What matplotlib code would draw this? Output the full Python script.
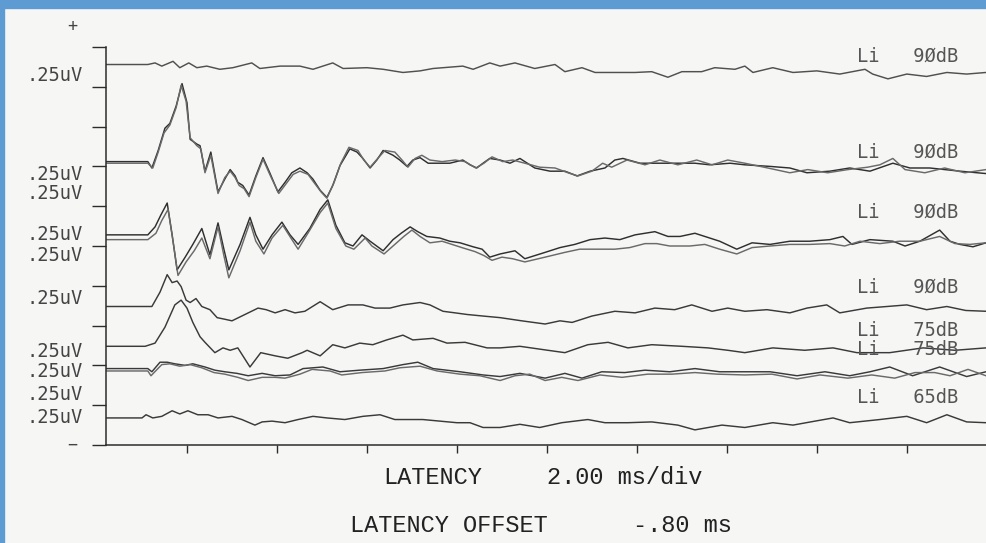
import matplotlib.pyplot as plt
from matplotlib.patches import Rectangle

# recording window (ms) and display scale
LATENCY_OFFSET_MS = -0.80
LATENCY_END_MS = 18.76
UV_PER_DIV = 0.25

# every sweep is a list of (latency ms, amplitude uV),
# amplitude relative to the sweep's own resting level
sweep_1 = [(0.13, 0), (0.29, 0.01), (0.44, -0.01), (0.69, 0.02), (0.84, -0.02), (1.04, 0.01),
           (1.22, -0.02), (1.44, -0.01), (1.73, -0.03), (2.02, -0.02), (2.44, 0.01), (2.62, -0.025),
           (3.07, -0.01), (3.51, -0.01), (3.8, -0.03), (4.24, 0.01), (4.47, -0.025), (5.0, -0.02),
           (5.36, -0.03), (5.8, -0.05), (6.18, -0.04), (6.47, -0.025), (7.13, -0.01), (7.36, -0.03),
           (7.73, 0.01), (7.96, -0.01), (8.29, 0.01), (8.73, -0.025), (9.18, 0), (9.4, -0.045),
           (9.78, -0.02), (10.07, -0.05), (10.51, -0.05), (10.96, -0.05), (11.33, -0.045), (11.69, -0.08),
           (12.0, -0.045), (12.44, -0.045), (12.73, -0.02), (13.18, -0.03), (13.4, -0.01), (13.58, -0.05),
           (14.02, -0.02), (14.47, -0.05), (15.0, -0.04), (15.51, -0.06), (16.07, -0.03), (16.24, -0.06),
           (16.58, -0.09), (17.0, -0.06), (17.44, -0.075), (17.89, -0.05), (18.33, -0.06), (18.76, -0.05)]

sweep_2a = [(0.13, 0), (0.22, -0.04), (0.36, 0.07), (0.51, 0.21), (0.62, 0.24), (0.76, 0.35), (0.89, 0.49),
            (1.0, 0.37), (1.07, 0.14), (1.22, 0.11), (1.29, 0.10), (1.4, -0.06), (1.53, 0.06), (1.69, -0.19),
            (1.84, -0.11), (1.96, -0.05), (2.07, -0.09), (2.13, -0.13), (2.24, -0.15), (2.38, -0.21),
            (2.53, -0.09), (2.69, 0.025), (2.84, -0.07), (3.02, -0.19), (3.18, -0.13), (3.33, -0.07),
            (3.51, -0.04), (3.67, -0.07), (3.8, -0.11), (3.96, -0.18), (4.11, -0.225), (4.24, -0.15),
            (4.4, -0.025), (4.62, 0.08), (4.78, 0.06), (4.91, 0.02), (5.07, -0.04), (5.22, 0.01),
            (5.36, 0.07), (5.58, 0.04), (5.73, 0.01), (5.89, -0.03), (6.02, 0.01), (6.18, 0.025),
            (6.36, -0.01), (6.62, -0.01), (6.84, -0.01), (7.13, 0.01), (7.29, -0.02), (7.44, -0.04),
            (7.58, -0.01), (7.73, 0.02), (7.96, 0.01), (8.18, -0.01), (8.4, 0.02), (8.73, -0.04),
            (9.07, -0.06), (9.4, -0.06), (9.67, -0.09), (9.96, -0.06), (10.29, -0.04), (10.51, 0.01),
            (10.69, 0.02), (11.07, -0.01), (11.58, -0.01), (11.96, -0.01), (12.29, -0.01), (12.62, -0.02),
            (13.07, -0.01), (13.4, -0.02), (13.96, -0.03), (14.4, -0.04), (14.78, -0.07), (15.29, -0.06),
            (15.73, -0.04), (16.18, -0.06), (16.69, -0.01), (17.07, -0.04), (17.51, -0.04), (18.18, -0.06),
            (18.76, -0.075)]

sweep_2b = [(0.13, 0), (0.24, -0.03), (0.36, 0.07), (0.49, 0.19), (0.62, 0.24), (0.76, 0.35), (0.87, 0.49),
            (0.98, 0.39), (1.07, 0.16), (1.22, 0.11), (1.31, 0.09), (1.4, -0.06), (1.53, 0.05), (1.69, -0.19),
            (1.84, -0.09), (1.96, -0.05), (2.07, -0.09), (2.16, -0.14), (2.27, -0.16), (2.38, -0.21),
            (2.53, -0.09), (2.69, 0.025), (2.84, -0.07), (3.04, -0.19), (3.2, -0.13), (3.36, -0.07),
            (3.51, -0.05), (3.69, -0.07), (3.82, -0.12), (3.98, -0.18), (4.11, -0.22), (4.27, -0.12),
            (4.42, 0.0), (4.6, 0.1), (4.8, 0.08), (4.93, 0.02), (5.07, -0.025), (5.24, 0.03), (5.4, 0.08),
            (5.62, 0.07), (5.78, 0.02), (5.91, -0.025), (6.07, 0.03), (6.22, 0.05), (6.4, 0.02), (6.67, 0.01),
            (6.96, 0.02), (7.18, 0.01), (7.42, -0.03), (7.6, 0.0), (7.78, 0.04), (8.02, 0.01), (8.24, 0.02),
            (8.51, 0.0), (8.84, -0.025), (9.18, -0.03), (9.47, -0.06), (9.69, -0.08), (10.0, -0.05),
            (10.24, 0.0), (10.44, -0.025), (10.78, 0.02), (11.18, -0.01), (11.51, 0.02), (11.91, -0.01),
            (12.33, 0.02), (12.67, -0.01), (13.02, 0.02), (13.4, 0.0), (13.91, -0.03), (14.4, -0.06),
            (14.8, -0.04), (15.24, -0.06), (15.69, -0.04), (16.13, -0.025), (16.4, -0.01), (16.69, 0.03),
            (16.96, -0.04), (17.4, -0.06), (17.84, -0.03), (18.29, -0.06), (18.76, -0.04)]

sweep_3a = [(0.13, 0), (0.29, 0.05), (0.42, 0.125), (0.56, 0.2), (0.67, 0.0), (0.78, -0.22), (0.96, -0.14),
            (1.13, -0.06), (1.33, 0.04), (1.51, -0.125), (1.69, 0.075), (1.82, -0.09), (1.93, -0.22),
            (2.18, -0.06), (2.4, 0.11), (2.53, 0.0), (2.69, -0.09), (2.89, 0.0), (3.11, 0.08), (3.29, 0.0),
            (3.47, -0.06), (3.73, 0.04), (3.96, 0.16), (4.13, 0.22), (4.31, 0.06), (4.51, -0.05),
            (4.69, -0.07), (4.89, 0.0), (5.07, -0.04), (5.36, -0.1), (5.58, -0.03), (5.76, 0.01),
            (5.96, 0.05), (6.13, 0.02), (6.33, -0.01), (6.62, -0.02), (6.84, -0.04), (7.07, -0.05),
            (7.36, -0.075), (7.56, -0.09), (7.73, -0.14), (7.96, -0.12), (8.29, -0.1), (8.51, -0.15),
            (8.96, -0.11), (9.29, -0.08), (9.62, -0.06), (9.96, -0.03), (10.29, -0.02), (10.62, -0.03),
            (10.96, 0.0), (11.4, 0.02), (11.69, -0.01), (11.96, -0.01), (12.29, 0.01), (12.51, -0.01),
            (12.84, -0.04), (13.22, -0.09), (13.56, -0.05), (13.96, -0.06), (14.4, -0.04), (14.84, -0.04),
            (15.29, -0.03), (15.58, -0.01), (15.78, -0.06), (16.18, -0.03), (16.69, -0.04), (16.96, -0.07),
            (17.29, -0.04), (17.73, 0.03), (17.96, -0.04), (18.18, -0.06), (18.47, -0.075), (18.76, -0.05)]

sweep_3b = [(0.13, 0), (0.31, 0.04), (0.44, 0.12), (0.58, 0.19), (0.69, -0.01), (0.8, -0.225), (0.98, -0.14),
            (1.16, -0.07), (1.33, 0.01), (1.51, -0.12), (1.69, 0.08), (1.82, -0.1), (1.93, -0.24),
            (2.18, -0.07), (2.4, 0.11), (2.53, -0.01), (2.71, -0.09), (2.89, 0.01), (3.13, 0.09),
            (3.31, 0.01), (3.47, -0.06), (3.73, 0.06), (3.96, 0.17), (4.13, 0.23), (4.31, 0.07),
            (4.53, -0.04), (4.71, -0.06), (4.96, 0.01), (5.11, -0.04), (5.38, -0.09), (5.62, -0.03),
            (5.82, 0.02), (6.0, 0.06), (6.18, 0.02), (6.4, -0.02), (6.67, -0.01), (6.89, -0.03),
            (7.11, -0.05), (7.4, -0.075), (7.6, -0.1), (7.78, -0.13), (8.0, -0.11), (8.24, -0.12),
            (8.51, -0.14), (8.96, -0.11), (9.4, -0.08), (9.73, -0.06), (10.18, -0.06), (10.51, -0.06),
            (10.84, -0.05), (11.18, -0.025), (11.44, -0.025), (11.73, -0.04), (12.18, -0.04), (12.51, -0.03),
            (12.84, -0.06), (13.22, -0.09), (13.56, -0.05), (13.96, -0.04), (14.4, -0.03), (14.84, -0.03),
            (15.29, -0.025), (15.62, -0.04), (15.96, -0.01), (16.4, -0.025), (16.84, -0.01), (17.29, -0.01),
            (17.73, 0.02), (18.07, -0.025), (18.4, -0.03), (18.76, -0.02)]

sweep_4 = [(0.22, 0), (0.4, 0.09), (0.56, 0.2), (0.67, 0.15), (0.78, 0.16), (0.87, 0.125), (0.98, 0.04),
           (1.07, 0.025), (1.2, 0.05), (1.33, 0.0), (1.51, -0.02), (1.67, -0.07), (1.84, -0.08), (2.0, -0.09),
           (2.29, -0.05), (2.58, -0.01), (2.76, -0.02), (2.96, -0.04), (3.18, -0.02), (3.4, -0.04),
           (3.62, -0.03), (3.96, 0.03), (4.24, -0.02), (4.58, 0.01), (4.91, 0.01), (5.18, -0.01),
           (5.51, -0.01), (5.8, 0.01), (6.18, 0.025), (6.4, 0.01), (6.69, -0.03), (6.96, -0.04),
           (7.22, -0.05), (7.58, -0.06), (7.96, -0.07), (8.44, -0.09), (8.96, -0.11), (9.29, -0.09),
           (9.56, -0.1), (10.0, -0.06), (10.51, -0.03), (10.96, -0.04), (11.4, -0.01), (11.84, -0.02),
           (12.22, 0.01), (12.67, -0.03), (13.02, -0.01), (13.4, -0.03), (13.89, -0.02), (14.4, -0.04),
           (14.78, -0.01), (15.22, 0.01), (15.51, -0.04), (16.11, -0.01), (16.56, 0.0), (17.0, 0.01),
           (17.44, -0.02), (17.89, 0.0), (18.31, -0.025), (18.76, -0.03)]

sweep_5 = [(0.07, 0), (0.29, 0.02), (0.51, 0.12), (0.73, 0.26), (0.87, 0.29), (1.0, 0.24), (1.13, 0.15),
           (1.29, 0.06), (1.4, 0.025), (1.62, -0.04), (1.8, -0.01), (1.96, -0.025), (2.13, -0.01),
           (2.4, -0.13), (2.64, -0.04), (2.96, -0.06), (3.24, -0.075), (3.56, -0.04), (3.67, -0.025),
           (3.96, -0.06), (4.24, 0.01), (4.51, -0.01), (4.84, 0.02), (5.13, 0.01), (5.44, 0.04), (5.8, 0.07),
           (6.02, 0.04), (6.47, 0.05), (6.78, 0.02), (7.18, 0.025), (7.67, -0.01), (7.96, -0.01), (8.4, 0.0),
           (9.02, -0.025), (9.4, -0.04), (9.91, 0.01), (10.36, 0.025), (10.8, -0.01), (11.33, 0.01),
           (12.0, 0.0), (12.58, -0.01), (13.02, -0.025), (13.4, -0.04), (14.02, -0.01), (14.73, -0.025),
           (15.36, -0.01), (15.89, -0.04), (16.62, -0.04), (17.36, -0.01), (18.07, -0.025), (18.76, -0.01)]

sweep_6a = [(0.13, 0), (0.22, -0.02), (0.4, 0.04), (0.56, 0.04), (0.73, 0.03), (0.96, 0.02), (1.13, 0.03),
            (1.4, 0.01), (1.62, -0.01), (1.84, -0.02), (2.11, -0.03), (2.36, -0.045), (2.67, -0.03),
            (2.96, -0.045), (3.29, -0.04), (3.58, 0.0), (4.02, 0.01), (4.4, -0.02), (4.84, -0.01), (5.36, 0.0),
            (5.8, 0.025), (6.13, 0.04), (6.47, 0.0), (7.07, -0.02), (7.58, -0.04), (7.96, -0.05), (8.4, -0.03),
            (8.96, -0.06), (9.4, -0.03), (9.78, -0.06), (10.22, -0.02), (10.73, -0.025), (11.18, -0.01),
            (11.73, -0.02), (12.29, 0.0), (12.84, -0.02), (13.4, -0.02), (13.96, -0.02), (14.56, -0.045),
            (15.18, -0.02), (15.73, -0.045), (16.18, -0.02), (16.62, 0.01), (17.13, -0.045), (17.73, 0.01),
            (18.33, -0.05), (18.76, -0.02)]

sweep_6b = [(0.13, 0), (0.2, -0.03), (0.44, 0.04), (0.62, 0.045), (0.84, 0.03), (1.07, 0.04), (1.33, 0.02),
            (1.6, -0.01), (1.84, -0.02), (2.13, -0.04), (2.36, -0.06), (2.67, -0.04), (2.96, -0.04),
            (3.18, -0.045), (3.51, -0.02), (3.78, 0.01), (4.18, 0.0), (4.44, -0.025), (4.89, -0.01), (5.4, 0.0),
            (5.73, 0.02), (6.18, 0.03), (6.56, 0.0), (7.07, -0.02), (7.51, -0.03), (7.96, -0.06), (8.29, -0.03),
            (8.62, -0.02), (8.96, -0.06), (9.33, -0.04), (9.69, -0.06), (10.18, -0.025), (10.67, -0.04),
            (11.24, -0.02), (11.78, -0.02), (12.29, -0.01), (12.78, -0.02), (13.4, -0.025), (14.0, -0.02),
            (14.56, -0.05), (15.07, -0.025), (15.69, -0.045), (16.22, -0.025), (16.73, -0.045), (17.18, -0.01),
            (17.62, -0.01), (17.96, -0.03), (18.36, 0.01), (18.76, -0.03)]

sweep_7 = [(0.0, 0), (0.09, 0.02), (0.24, 0.0), (0.44, 0.01), (0.67, 0.045), (0.84, 0.025), (1.02, 0.045),
           (1.24, 0.02), (1.47, 0.02), (1.69, 0.0), (2.0, 0.01), (2.22, -0.01), (2.51, -0.045), (2.67, -0.025),
           (2.89, -0.02), (3.18, -0.03), (3.47, -0.01), (3.8, 0.01), (4.11, 0.0), (4.51, -0.01), (4.91, 0.01),
           (5.29, 0.02), (5.62, -0.01), (6.24, -0.01), (6.62, -0.02), (7.0, -0.03), (7.29, -0.03),
           (7.58, -0.06), (7.96, -0.06), (8.4, -0.04), (8.84, -0.06), (9.33, -0.03), (9.91, -0.01),
           (10.29, -0.03), (10.8, -0.03), (11.33, -0.025), (11.91, -0.045), (12.29, -0.075), (12.89, -0.045),
           (13.4, -0.06), (14.02, -0.03), (14.47, -0.045), (14.96, -0.02), (15.36, 0.0), (15.73, -0.03),
           (16.4, -0.01), (17.0, 0.01), (17.44, -0.03), (17.89, 0.02), (18.33, -0.025), (18.76, -0.03)]

sweeps = [sweep_1, sweep_2a, sweep_2b, sweep_3a, sweep_3b, sweep_4, sweep_5, sweep_6a, sweep_6b, sweep_7]
sweep_rest_uv = [2.39, 1.78, 1.77, 1.32, 1.29, 0.87, 0.62, 0.48, 0.465, 0.17]
sweep_colors = ['#505050', '#2f2f2f', '#6a6a6a', '#2f2f2f', '#6a6a6a',
                '#3a3a3a', '#3a3a3a', '#3a3a3a', '#6a6a6a', '#3a3a3a']

scale_labels = ['.25uV'] * 10
scale_label_uv = [2.32, 1.70, 1.58, 1.32, 1.19, 0.92, 0.59, 0.46, 0.32, 0.17]
stim_labels = ['Li   9ØdB', 'Li   9ØdB', 'Li   9ØdB', 'Li   9ØdB', 'Li   75dB', 'Li   75dB', 'Li   65dB']
stim_label_uv = [2.44, 1.84, 1.46, 0.99, 0.72, 0.60, 0.30]
tick_ms = [1, 3, 5, 7, 9, 11, 13, 15, 17]
tick_uv = [0, 0.25, 0.5, 0.75, 1.0, 1.25, 1.5, 1.75, 2.0, 2.25, 2.5]

W, H = 986, 543
paper = '#f6f6f5'
ink = '#2c2c2c'

fig = plt.figure(figsize=(W / 100, H / 100), dpi=100, facecolor=paper)
ax = fig.add_axes([106 / W, 98 / H, 880 / W, 398 / H])
ax.set_facecolor(paper)
ax.set_xlim(LATENCY_OFFSET_MS, LATENCY_END_MS)
ax.set_ylim(0, 10 * UV_PER_DIV)

for sweep, rest, col in zip(sweeps, sweep_rest_uv, sweep_colors):
    t = [LATENCY_OFFSET_MS] + [p[0] for p in sweep]
    v = [rest] + [rest + p[1] for p in sweep]
    ax.plot(t, v, color=col, lw=1.05, solid_joinstyle='round')

# plotter style frame: only left and bottom axes
for side in ['top', 'right']:
    ax.spines[side].set_visible(False)
for side in ['left', 'bottom']:
    ax.spines[side].set_color(ink)
    ax.spines[side].set_linewidth(1.1)

ax.set_xticks(tick_ms)
ax.set_yticks(tick_uv)
ax.set_xticklabels([])
ax.set_yticklabels([])
ax.tick_params(axis='x', direction='out', length=5.5, width=1, color=ink)
ax.tick_params(axis='y', direction='out', length=10, width=1, color=ink)

mono = 'DejaVu Sans Mono'
for lab, y in zip(scale_labels, scale_label_uv):
    ax.text(-1.31, y, lab, ha='right', va='center', family=mono, fontsize=13.5,
            color='#444444', clip_on=False)
for lab, y in zip(stim_labels, stim_label_uv):
    ax.text(15.89, y, lab, ha='left', va='center', family=mono, fontsize=13.5,
            color='#555555')
ax.text(-1.56, 2.63, '+', ha='center', va='center', family=mono, fontsize=12,
        color='#444444', clip_on=False)
ax.text(-1.56, 0.0, '−', ha='center', va='center', family=mono, fontsize=12,
        color='#444444', clip_on=False)

# bottom caption printed by the recorder
cap = dict(family='Liberation Mono', fontsize=17, color='#222222', va='center')
fig.text(383 / W, 1 - 477 / H, 'LATENCY', **cap)
fig.text(547 / W, 1 - 477 / H, '2.00 ms/div', **cap)
fig.text(350 / W, 1 - 525 / H, 'LATENCY OFFSET', **cap)
fig.text(633 / W, 1 - 525 / H, '-.80 ms', **cap)

# blue frame of the scan
blue = '#5f9bd3'
fig.patches.append(Rectangle((0, 1 - 8 / H), 1, 8 / H, transform=fig.transFigure,
                             color=blue, zorder=10))
fig.patches.append(Rectangle((0, 0), 4 / W, 1, transform=fig.transFigure,
                             color=blue, zorder=10))

fig.savefig('out.png', dpi=100, facecolor=paper)
